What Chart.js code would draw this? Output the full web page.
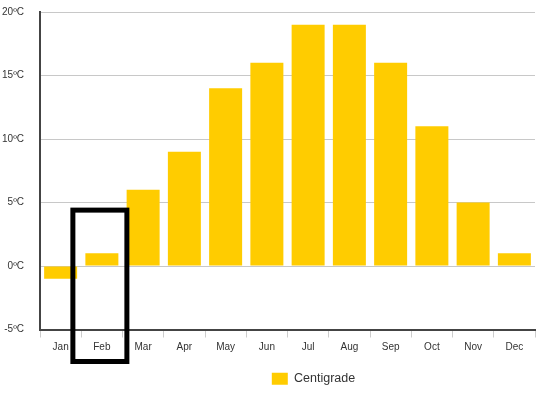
<!DOCTYPE html>
<html>
<head>
<meta charset="utf-8">
<script src="https://cdn.jsdelivr.net/npm/chart.js@4/dist/chart.umd.min.js"></script>
<style>
  html, body { margin: 0; padding: 0; background: #fff; }
  #wrap { width: 543px; height: 399px; }
</style>
</head>
<body>
<div id="wrap"><canvas id="tempChart"></canvas></div>
<script>
const months = ['Jan', 'Feb', 'Mar', 'Apr', 'May', 'Jun', 'Jul', 'Aug', 'Sep', 'Oct', 'Nov', 'Dec'];
const centigrade = [-1, 1, 6, 9, 14, 16, 19, 19, 16, 11, 5, 1];
const yTicks = [-5, 0, 5, 10, 15, 20];

// highlighted month (the black frame)
const highlightIndex = 1;
const highlightTop = 4.4;

const highlightBox = {
    id: 'highlightBox',
    afterLayout(chart) {
        // legend sits a bit right of centre in the original
        chart.legend.left += 46;
        chart.legend.right += 46;
    },
    afterDraw(chart) {
        const { ctx, scales: { x, y }, chartArea } = chart;
        const cx = x.getPixelForValue(highlightIndex) - 2;
        const top = y.getPixelForValue(highlightTop);
        const bottom = chartArea.bottom + 32;
        ctx.save();
        ctx.strokeStyle = '#000';
        ctx.lineWidth = 5;
        ctx.strokeRect(cx - 27, top, 54, bottom - top);
        ctx.restore();
    }
};

const tempChartCtx = document.getElementById('tempChart').getContext('2d');
const tempChart = new Chart(tempChartCtx, {
    type: 'bar',
    data: {
        labels: months,
        datasets: [{ label: 'Centigrade', data: centigrade, backgroundColor: '#FFCC00', categoryPercentage: 0.8, barPercentage: 1.0 }]
    },
    options: {
        responsive: true,
        maintainAspectRatio: false,
        animation: false,
        layout: { padding: { top: 12, right: 8, left: 0, bottom: 4 } },
        plugins: {
            tooltip: { enabled: false },
            legend: {
                position: 'bottom',
                labels: {
                    boxWidth: 16, boxHeight: 12, padding: 10,
                    color: '#333', font: { family: 'Arial, Liberation Sans', size: 12.5 }
                }
            }
        },
        scales: {
            x: {
                afterFit(scale) { scale.height += 5; },
                grid: { drawOnChartArea: false, color: '#ccc', tickLength: 8 },
                border: { color: '#444', width: 2 },
                ticks: { color: '#333', padding: 4, font: { family: 'Arial, Liberation Sans', size: 10 } }
            },
            y: {
                min: -5, max: 20,
                afterBuildTicks(scale) { scale.ticks = yTicks.map(v => ({ value: v })); },
                afterFit(scale) { scale.width = 40; },
                grid: { color: '#c8c8c8', tickLength: 16, tickColor: 'rgba(0,0,0,0)' },
                border: { color: '#444', width: 2 },
                ticks: {
                    color: '#333', padding: 0,
                    font: { family: 'Arial, Liberation Sans', size: 10 },
                    callback: v => v + 'ºC'
                }
            }
        }
    },
    plugins: [highlightBox]
});
</script>
</body>
</html>
